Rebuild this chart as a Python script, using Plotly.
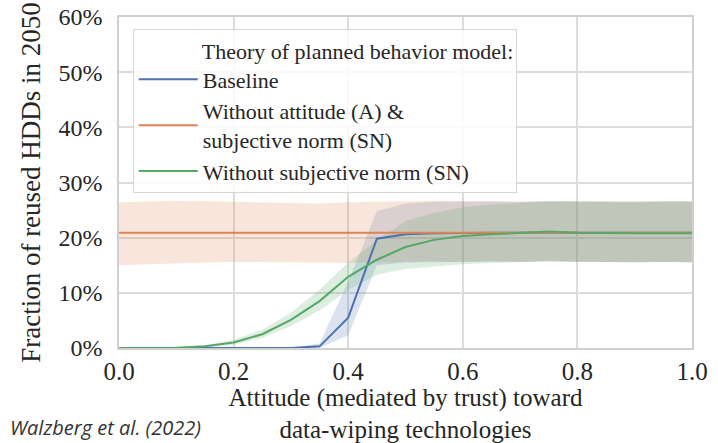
import plotly.graph_objects as go

attitude = [0.0, 0.05, 0.1, 0.15, 0.2, 0.25, 0.3, 0.35, 0.4, 0.45, 0.5,
            0.55, 0.6, 0.65, 0.7, 0.75, 0.8, 0.85, 0.9, 0.95, 1.0]

baseline_mean = [0, 0, 0, 0, 0, 0, 0, 0.3, 5.5, 19.8, 20.6,
                 20.8, 20.9, 20.9, 20.9, 20.9, 20.9, 20.9, 20.9, 20.9, 20.9]
baseline_low = [0, 0, 0, 0, 0, 0, 0, 0, 2.3, 15.0, 15.5,
                15.6, 15.7, 15.7, 15.6, 15.8, 15.7, 15.6, 15.5, 15.6, 15.5]
baseline_high = [0, 0, 0, 0, 0, 0, 0, 0.8, 12.0, 24.8, 26.2,
                 26.5, 26.6, 26.6, 26.5, 26.6, 26.5, 26.4, 26.4, 26.5, 26.5]

noasn_mean = [20.9] * 21
noasn_low = [15.0, 15.2, 15.3, 15.5, 15.6, 15.6, 15.5, 15.5, 15.4, 15.5, 15.6,
             15.7, 15.6, 15.7, 15.6, 15.7, 15.6, 15.6, 15.7, 15.6, 15.6]
noasn_high = [26.4, 26.6, 26.7, 26.6, 26.5, 26.4, 26.3, 26.2, 26.4, 26.5, 26.6,
              26.7, 26.6, 26.5, 26.5, 26.6, 26.6, 26.5, 26.6, 26.6, 26.6]

nosn_mean = [0, 0, 0.05, 0.3, 1.0, 2.5, 5.1, 8.5, 12.9, 16.0, 18.3,
             19.6, 20.3, 20.6, 20.8, 21.1, 20.9, 20.8, 20.8, 20.8, 20.8]
nosn_low = [0, 0, 0, 0.1, 0.6, 1.8, 4.0, 6.8, 10.5, 13.3, 14.3,
            14.8, 15.2, 15.4, 15.5, 15.7, 15.6, 15.6, 15.7, 15.6, 15.6]
nosn_high = [0, 0.05, 0.15, 0.5, 1.5, 3.3, 6.4, 10.6, 15.5, 19.5, 23.0,
             24.5, 25.5, 26.0, 26.3, 26.6, 26.6, 26.5, 26.5, 26.6, 26.6]

x_ticks = [0.0, 0.2, 0.4, 0.6, 0.8, 1.0]
y_ticks = [0, 10, 20, 30, 40, 50, 60]

series = [
    ("Baseline", baseline_mean, baseline_low, baseline_high, "#4C72B0", "rgba(76,114,176,0.2)"),
    ("Without attitude (A) &<br>subjective norm (SN)", noasn_mean, noasn_low, noasn_high, "#DD8452", "rgba(221,132,82,0.2)"),
    ("Without subjective norm (SN)", nosn_mean, nosn_low, nosn_high, "#55A868", "rgba(85,168,104,0.2)"),
]

fig = go.Figure()
for name, mean, low, high, col, fillcol in series:
    fig.add_trace(go.Scatter(x=attitude, y=high, mode="lines", line=dict(width=0),
                             showlegend=False, hoverinfo="skip"))
    fig.add_trace(go.Scatter(x=attitude, y=low, mode="lines", line=dict(width=0),
                             fill="tonexty", fillcolor=fillcol, showlegend=False, hoverinfo="skip"))
for name, mean, low, high, col, fillcol in series:
    fig.add_trace(go.Scatter(x=attitude, y=mean, mode="lines", name=name,
                             line=dict(color=col, width=2)))

serif = "Liberation Serif, Tinos, DejaVu Serif, serif"
fig.update_layout(
    width=718, height=443,
    margin=dict(l=119, r=26, t=17, b=95),
    paper_bgcolor="white", plot_bgcolor="white",
    font=dict(family=serif, color="#262626"),
    legend=dict(
        x=0.024, y=0.964, xanchor="left", yanchor="top",
        traceorder="normal", itemwidth=59,
        bgcolor="rgba(255,255,255,0.85)", bordercolor="#d6d6d6", borderwidth=1,
        font=dict(family=serif, size=22, color="#262626"),
        title=dict(text="\u00a0" * 12 + "Theory of planned behavior model:", side="top",
                   font=dict(family=serif, size=22, color="#262626")),
        tracegroupgap=0,
    ),
    xaxis=dict(
        range=[0, 1], tickvals=x_ticks, ticktext=[f"{v:.1f}" for v in x_ticks],
        showgrid=True, gridcolor="#dcdcdc", gridwidth=1.5,
        showline=True, linecolor="#d0d0d0", linewidth=1.5, mirror=True,
        zeroline=False, ticks="", tickfont=dict(size=25, family=serif),
        automargin=False,
        title=dict(text="Attitude (mediated by trust) toward<br>data-wiping technologies",
                   font=dict(size=25, family=serif), standoff=10),
    ),
    yaxis=dict(
        range=[0, 60], tickvals=y_ticks, ticktext=[f"{v}%" for v in y_ticks],
        showgrid=True, gridcolor="#dcdcdc", gridwidth=1.5,
        showline=True, linecolor="#d0d0d0", linewidth=1.5, mirror=True,
        zeroline=False, ticks="", tickfont=dict(size=24, family=serif),
        ticklabelstandoff=10, automargin=False,
        title=dict(text="Fraction of reused HDDs in 2050", font=dict(size=27, family=serif), standoff=10),
    ),
)
fig.add_annotation(text="<i>Walzberg et al. (2022)</i>", xref="paper", yref="paper",
                   x=(8 - 119) / 573, y=(348 - 427) / 331, xanchor="left", yanchor="middle",
                   showarrow=False, font=dict(family="Open Sans", size=20, color="#333333"))

fig.write_html("out.html", config={"displayModeBar": False},
               post_script="document.body.style.margin='0';")
